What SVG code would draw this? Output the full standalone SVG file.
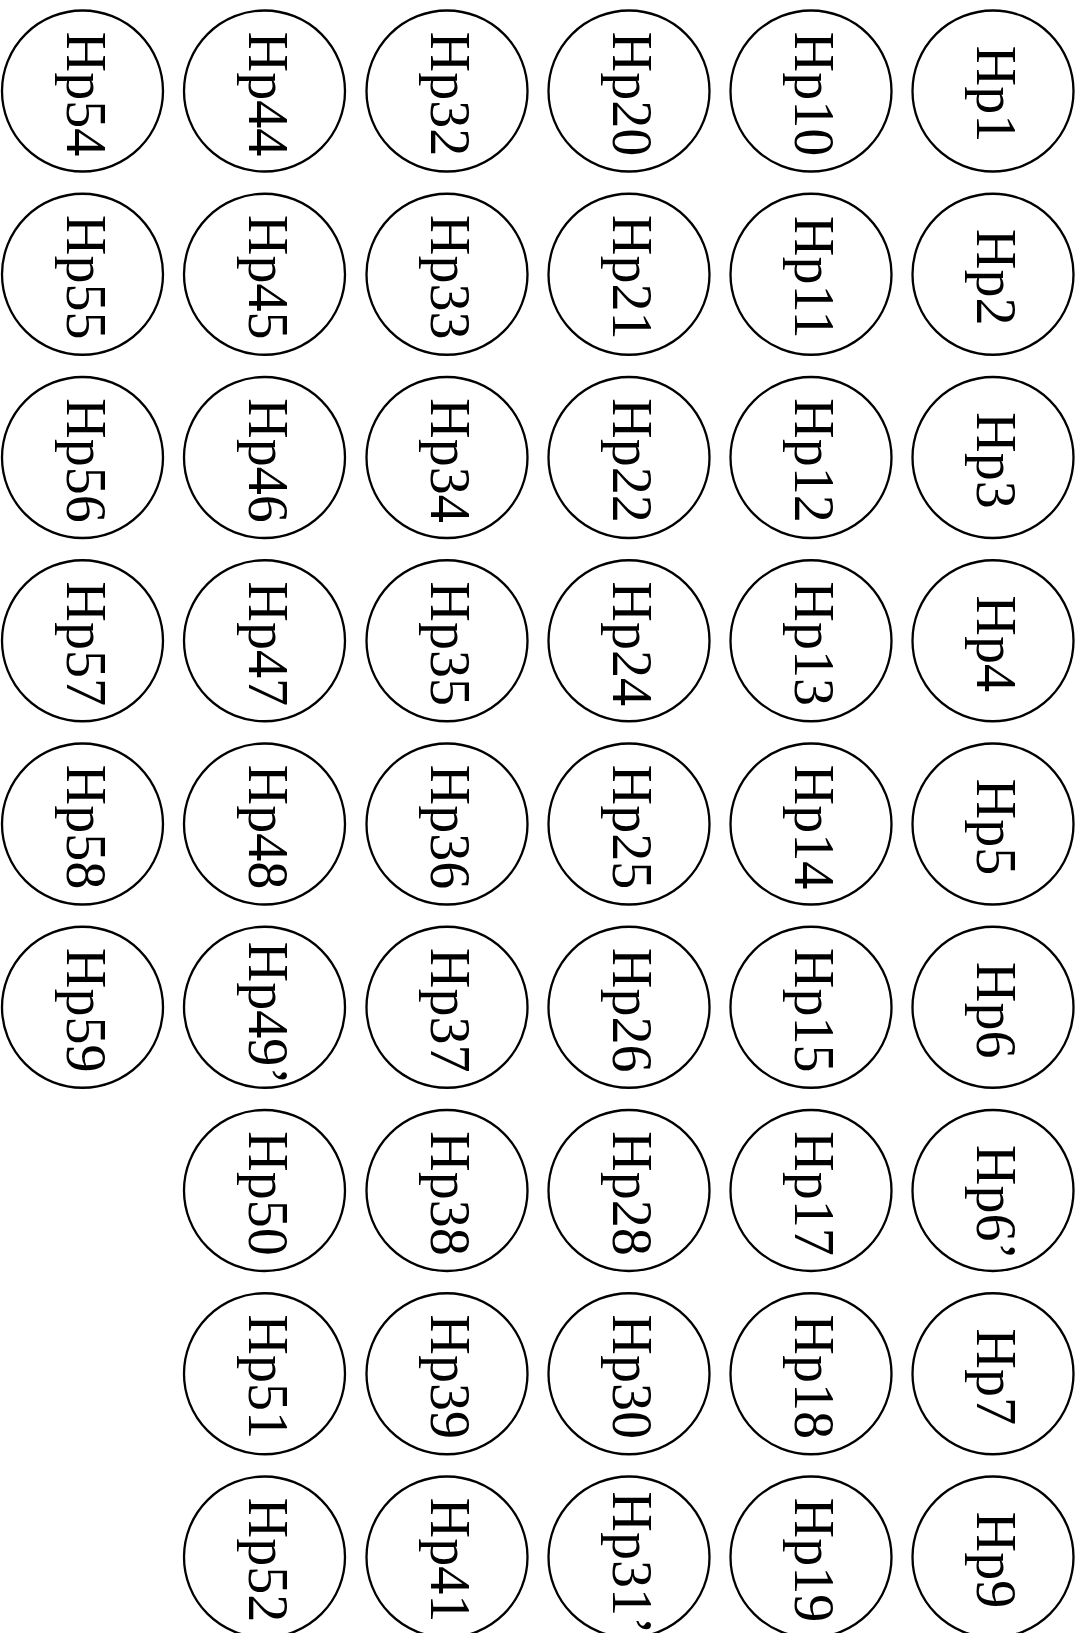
<svg xmlns="http://www.w3.org/2000/svg" width="1082" height="1633" viewBox="0 0 1082 1633">
<style>
.n circle{fill:#fff;stroke:#000;stroke-width:2.3}
.n text{font-family:"Liberation Serif","Times New Roman",serif;font-size:56px;text-anchor:middle;fill:#000}
</style>
<rect width="1082" height="1633" fill="#fff"/>
<g id="nodes">
<g id="Hp1" class="n" transform="translate(993,91) rotate(90)"><circle r="80.5"/><text x="3" y="16">Hp1</text></g>
<g id="Hp2" class="n" transform="translate(993,274.25) rotate(90)"><circle r="80.5"/><text x="3" y="16">Hp2</text></g>
<g id="Hp3" class="n" transform="translate(993,457.5) rotate(90)"><circle r="80.5"/><text x="3" y="16">Hp3</text></g>
<g id="Hp4" class="n" transform="translate(993,640.75) rotate(90)"><circle r="80.5"/><text x="3" y="16">Hp4</text></g>
<g id="Hp5" class="n" transform="translate(993,824) rotate(90)"><circle r="80.5"/><text x="3" y="16">Hp5</text></g>
<g id="Hp6" class="n" transform="translate(993,1007.25) rotate(90)"><circle r="80.5"/><text x="3" y="16">Hp6</text></g>
<g id="Hp6p" class="n" transform="translate(993,1190.5) rotate(90)"><circle r="80.5"/><text x="12" y="16">Hp6’</text></g>
<g id="Hp7" class="n" transform="translate(993,1373.75) rotate(90)"><circle r="80.5"/><text x="3" y="16">Hp7</text></g>
<g id="Hp9" class="n" transform="translate(993,1557) rotate(90)"><circle r="80.5"/><text x="3" y="16">Hp9</text></g>

<g id="Hp10" class="n" transform="translate(811,91) rotate(90)"><circle r="80.5"/><text x="3" y="16">Hp10</text></g>
<g id="Hp11" class="n" transform="translate(811,274.25) rotate(90)"><circle r="80.5"/><text x="3" y="16">Hp11</text></g>
<g id="Hp12" class="n" transform="translate(811,457.5) rotate(90)"><circle r="80.5"/><text x="3" y="16">Hp12</text></g>
<g id="Hp13" class="n" transform="translate(811,640.75) rotate(90)"><circle r="80.5"/><text x="3" y="16">Hp13</text></g>
<g id="Hp14" class="n" transform="translate(811,824) rotate(90)"><circle r="80.5"/><text x="3" y="16">Hp14</text></g>
<g id="Hp15" class="n" transform="translate(811,1007.25) rotate(90)"><circle r="80.5"/><text x="3" y="16">Hp15</text></g>
<g id="Hp17" class="n" transform="translate(811,1190.5) rotate(90)"><circle r="80.5"/><text x="3" y="16">Hp17</text></g>
<g id="Hp18" class="n" transform="translate(811,1373.75) rotate(90)"><circle r="80.5"/><text x="3" y="16">Hp18</text></g>
<g id="Hp19" class="n" transform="translate(811,1557) rotate(90)"><circle r="80.5"/><text x="3" y="16">Hp19</text></g>

<g id="Hp20" class="n" transform="translate(629,91) rotate(90)"><circle r="80.5"/><text x="3" y="16">Hp20</text></g>
<g id="Hp21" class="n" transform="translate(629,274.25) rotate(90)"><circle r="80.5"/><text x="3" y="16">Hp21</text></g>
<g id="Hp22" class="n" transform="translate(629,457.5) rotate(90)"><circle r="80.5"/><text x="3" y="16">Hp22</text></g>
<g id="Hp24" class="n" transform="translate(629,640.75) rotate(90)"><circle r="80.5"/><text x="3" y="16">Hp24</text></g>
<g id="Hp25" class="n" transform="translate(629,824) rotate(90)"><circle r="80.5"/><text x="3" y="16">Hp25</text></g>
<g id="Hp26" class="n" transform="translate(629,1007.25) rotate(90)"><circle r="80.5"/><text x="3" y="16">Hp26</text></g>
<g id="Hp28" class="n" transform="translate(629,1190.5) rotate(90)"><circle r="80.5"/><text x="3" y="16">Hp28</text></g>
<g id="Hp30" class="n" transform="translate(629,1373.75) rotate(90)"><circle r="80.5"/><text x="3" y="16">Hp30</text></g>
<g id="Hp31p" class="n" transform="translate(629,1557) rotate(90)"><circle r="80.5"/><text x="6" y="16">Hp31’</text></g>

<g id="Hp32" class="n" transform="translate(447,91) rotate(90)"><circle r="80.5"/><text x="3" y="16">Hp32</text></g>
<g id="Hp33" class="n" transform="translate(447,274.25) rotate(90)"><circle r="80.5"/><text x="3" y="16">Hp33</text></g>
<g id="Hp34" class="n" transform="translate(447,457.5) rotate(90)"><circle r="80.5"/><text x="3" y="16">Hp34</text></g>
<g id="Hp35" class="n" transform="translate(447,640.75) rotate(90)"><circle r="80.5"/><text x="3" y="16">Hp35</text></g>
<g id="Hp36" class="n" transform="translate(447,824) rotate(90)"><circle r="80.5"/><text x="3" y="16">Hp36</text></g>
<g id="Hp37" class="n" transform="translate(447,1007.25) rotate(90)"><circle r="80.5"/><text x="3" y="16">Hp37</text></g>
<g id="Hp38" class="n" transform="translate(447,1190.5) rotate(90)"><circle r="80.5"/><text x="3" y="16">Hp38</text></g>
<g id="Hp39" class="n" transform="translate(447,1373.75) rotate(90)"><circle r="80.5"/><text x="3" y="16">Hp39</text></g>
<g id="Hp41" class="n" transform="translate(447,1557) rotate(90)"><circle r="80.5"/><text x="3" y="16">Hp41</text></g>

<g id="Hp44" class="n" transform="translate(264.5,91) rotate(90)"><circle r="80.5"/><text x="3" y="16">Hp44</text></g>
<g id="Hp45" class="n" transform="translate(264.5,274.25) rotate(90)"><circle r="80.5"/><text x="3" y="16">Hp45</text></g>
<g id="Hp46" class="n" transform="translate(264.5,457.5) rotate(90)"><circle r="80.5"/><text x="3" y="16">Hp46</text></g>
<g id="Hp47" class="n" transform="translate(264.5,640.75) rotate(90)"><circle r="80.5"/><text x="3" y="16">Hp47</text></g>
<g id="Hp48" class="n" transform="translate(264.5,824) rotate(90)"><circle r="80.5"/><text x="3" y="16">Hp48</text></g>
<g id="Hp49p" class="n" transform="translate(264.5,1007.25) rotate(90)"><circle r="80.5"/><text x="6" y="16">Hp49’</text></g>
<g id="Hp50" class="n" transform="translate(264.5,1190.5) rotate(90)"><circle r="80.5"/><text x="3" y="16">Hp50</text></g>
<g id="Hp51" class="n" transform="translate(264.5,1373.75) rotate(90)"><circle r="80.5"/><text x="3" y="16">Hp51</text></g>
<g id="Hp52" class="n" transform="translate(264.5,1557) rotate(90)"><circle r="80.5"/><text x="3" y="16">Hp52</text></g>

<g id="Hp54" class="n" transform="translate(82.5,91) rotate(90)"><circle r="80.5"/><text x="3" y="16">Hp54</text></g>
<g id="Hp55" class="n" transform="translate(82.5,274.25) rotate(90)"><circle r="80.5"/><text x="3" y="16">Hp55</text></g>
<g id="Hp56" class="n" transform="translate(82.5,457.5) rotate(90)"><circle r="80.5"/><text x="3" y="16">Hp56</text></g>
<g id="Hp57" class="n" transform="translate(82.5,640.75) rotate(90)"><circle r="80.5"/><text x="3" y="16">Hp57</text></g>
<g id="Hp58" class="n" transform="translate(82.5,824) rotate(90)"><circle r="80.5"/><text x="3" y="16">Hp58</text></g>
<g id="Hp59" class="n" transform="translate(82.5,1007.25) rotate(90)"><circle r="80.5"/><text x="3" y="16">Hp59</text></g>
</g>
<g id="connectors"/>
</svg>
